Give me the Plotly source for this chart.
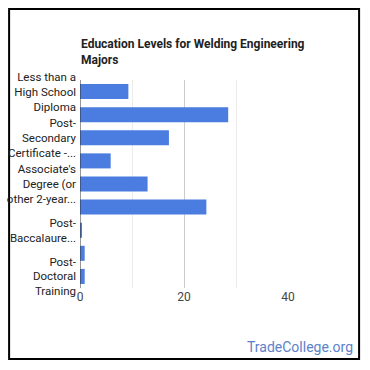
import plotly.graph_objects as go

categories = [
    "Less than a High School Diploma",
    "High School Diploma",
    "Post-Secondary Certificate - ...",
    "Some College Courses",
    "Associate's Degree (or other 2-year...",
    "Bachelor's Degree",
    "Post-Baccalaureate Certificate",
    "Master's Degree",
    "Post-Doctoral Training",
]
values = [9.3, 28.5, 17.1, 5.9, 13.0, 24.3, 0.25, 0.9, 0.9]
shown_ticks = [categories[i] for i in (0, 2, 4, 6, 8)]
shown_text = [
    "Less than a<br>High School<br>Diploma",
    "Post-<br>Secondary<br>Certificate -...",
    "Associate's<br>Degree (or<br>other 2-year...",
    "Post-<br>Baccalaure...",
    "Post-<br>Doctoral<br>Training",
]
x_ticks = [0, 20, 40]

W, H = 370, 370
L, T = 80, 80
R = W - 288.3
B = H - 288
pw, ph = W - L - R, H - T - B

def px_x(p):
    return (p - L) / pw

def px_y(p):
    return (H - B - p) / ph

fig = go.Figure(go.Bar(
    y=categories, x=values, orientation="h",
    marker=dict(color="#4a7ddf", line=dict(width=0)),
    hoverinfo="x+y",
))

fig.update_layout(
    width=W, height=H,
    margin=dict(l=L, r=R, t=T, b=B, autoexpand=False),
    paper_bgcolor="white", plot_bgcolor="white",
    font=dict(family="Roboto, Arial, sans-serif", size=12, color="#222"),
    bargap=0.35,
    showlegend=False,
    xaxis=dict(
        range=[0, 40], tickvals=x_ticks, ticktext=[str(v) for v in x_ticks],
        showgrid=True, gridcolor="#cccccc", gridwidth=1,
        minor=dict(dtick=10, showgrid=True, gridcolor="#ebebeb"),
        zeroline=False, showline=False, ticks="",
        tickfont=dict(size=12, color="#444"),
        automargin=False,
        fixedrange=True,
    ),
    yaxis=dict(
        autorange="reversed",
        tickmode="array", tickvals=shown_ticks, ticktext=shown_text,
        showgrid=False, zeroline=False,
        showline=False, ticks="",
        tickfont=dict(size=11.5, color="#222"),
        ticklabelstandoff=3,
        automargin=False,
        fixedrange=True,
    ),
    shapes=[
        dict(type="line", xref="x", yref="paper", x0=0, x1=0, y0=0, y1=1,
             line=dict(color="#333333", width=1)),
        dict(type="rect", xref="paper", yref="paper", layer="below",
             x0=px_x(9), x1=px_x(359.5), y0=px_y(359), y1=px_y(9),
             line=dict(color="black", width=2), fillcolor="rgba(0,0,0,0)"),
    ],
    annotations=[
        dict(text="<b>Education Levels for Welding Engineering<br>Majors</b>",
             xref="paper", yref="paper", x=px_x(79), y=px_y(35),
             xanchor="left", yanchor="top", align="left", showarrow=False,
             font=dict(size=12, color="#222")),
        dict(text="TradeCollege.org", xref="paper", yref="paper",
             x=px_x(355), y=px_y(347), xanchor="right", yanchor="middle",
             showarrow=False, font=dict(size=14, color="#5b82c9")),
    ],
)

fig.write_html("out.html", config={"displayModeBar": False},
               post_script="document.body.style.margin='0';")
